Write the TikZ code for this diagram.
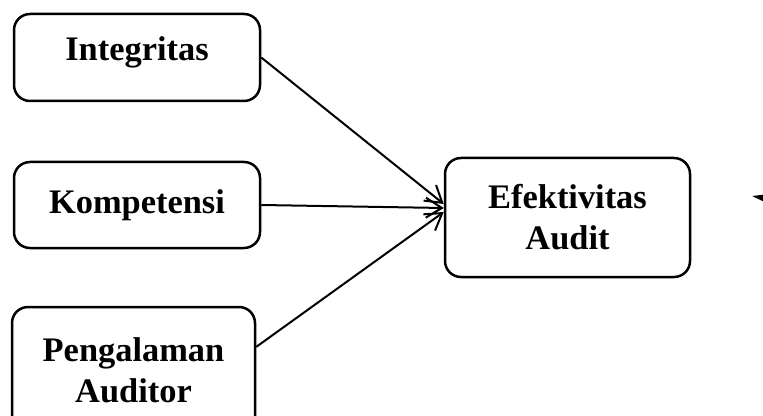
\documentclass[tikz,border=0pt]{standalone}
\usepackage{fontspec}
\setmainfont{Liberation Serif}
\usepackage{tikz}
\usetikzlibrary{arrows.meta}
\usetikzlibrary{calc}

\tikzset{
    varbox/.style = {draw, line width = 1.25pt, rounded corners = 8pt, align = center,
        font = \bfseries\fontsize{17.2}{20.5}\selectfont},
    arr/.style = {line width = 1pt, -{Straight Barb[length = 8pt, width = 10pt, line width = 1pt]}}
}

\begin{document}
\begin{tikzpicture}[x = 0.5pt, y = -0.5pt]
            \useasboundingbox (0, 0) rectangle (763, 416);
            \clip (0, 0) rectangle (763, 416);
            \node [varbox, minimum width = 123pt, minimum height = 43.5pt, text depth = 9pt] (integ) at (137, 57.5) {Integritas};
            \node [varbox, minimum width = 123pt, minimum height = 43pt] (komp) at (137, 205) {Kompetensi};
            \node [varbox, minimum width = 121.5pt, minimum height = 63pt] (peng) at (133.5, 370) {Pengalaman\\Auditor};
            \node [varbox, minimum width = 122.5pt, minimum height = 59.5pt] (efek) at (567.5, 217.5) {Efektivitas\\Audit};
            \draw [arr] (integ.east) -- ([yshift = 6.75pt]efek.west);
            \draw [arr] (komp.east) -- ([yshift = 4.75pt]efek.west);
            \draw [arr] ($(peng.north east)!0.32!(peng.south east)$) -- ([yshift = 2.75pt]efek.west);
            % cut-off arrow at the right edge
            \coordinate (cut) at (800, 204);
            \coordinate (tip) at (752, 196);
            \draw [line width = 1pt, -{Triangle[length = 9pt, width = 5pt]}] (cut) -- (tip);
        \end{tikzpicture}
\end{document}
